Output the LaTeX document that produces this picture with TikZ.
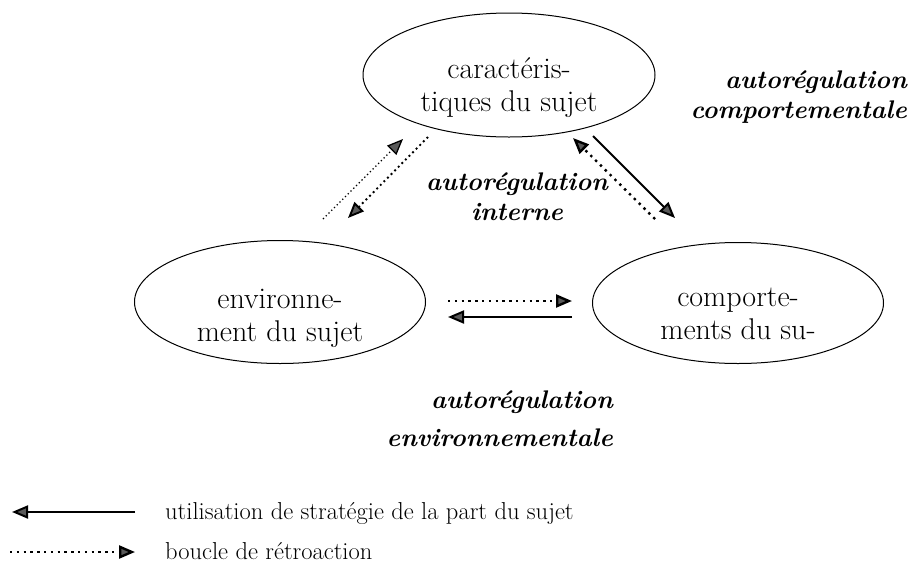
\documentclass[tikz,border=0pt]{standalone}
\usepackage{amsmath, amssymb}
\usetikzlibrary{arrows.meta, shapes.geometric}

\tikzset{
    bubble/.style={draw, ellipse, line width=1pt, inner sep=0pt},
    pole/.style={inner sep=0pt, align=center, font=\fontsize{30}{33}\selectfont},
    regul/.style={inner sep=0pt, font=\fontsize{25.5}{30}\selectfont\bfseries\itshape},
    legend/.style={inner sep=0pt, anchor=base west, font=\fontsize{24.5}{30}\selectfont},
    tip/.style={-{Triangle[length=16pt, width=13pt, fill=black!65]}},
    strat/.style={tip, line width=2pt},
    retro/.style={tip, line width=2.4pt, dash pattern=on 2.4pt off 4.4pt}
}

\begin{document}
\begin{tikzpicture}[x=1pt, y=-1pt]
    \useasboundingbox (0,0) rectangle (911,571);

    % the three poles
    \node[bubble, minimum width=292pt, minimum height=124pt] (sujet) at (509,75) {};
    \node[bubble, minimum width=291pt, minimum height=123pt] (env) at (280,302) {};
    \node[bubble, minimum width=291pt, minimum height=121pt] (comp) at (738,303) {};
    \node[pole] (sujettxt) at (509,88) {caractéris-\\tiques du sujet};
    \node[pole] (envtxt) at (280,318) {environne-\\ment du sujet};
    \node[pole] (comptxt) at (738,314) {comporte-\\ments du su-};

    % labels
    \node[regul, align=right, anchor=east] (regcomp) at (907,97)
        {autorégulation\\comportementale};
    \node[regul, align=center] (regint) at (517,197)
        {autorégulation\\interne};
    \node[regul, align=right, anchor=east, font=\fontsize{25.5}{38}\selectfont\bfseries\itshape]
        (regenv) at (613,419) {autorégulation\\environnementale};

    % arrow ends
    \coordinate (ea) at (323,219);
    \coordinate (eb) at (403,139);
    \coordinate (ec) at (428,137);
    \coordinate (ed) at (348,218);
    \coordinate (ca) at (655,219);
    \coordinate (cb) at (573,138);
    \coordinate (cc) at (593,136);
    \coordinate (cd) at (675,218);
    \coordinate (ha) at (448,301);
    \coordinate (hb) at (572,301);
    \coordinate (hc) at (572,317);
    \coordinate (hd) at (448,317);

    \draw[retro, line width=1.3pt, dash pattern=on 1.3pt off 2.6pt] (ea) -- (eb);
    \draw[retro, line width=1.9pt, dash pattern=on 1.9pt off 3.2pt] (ec) -- (ed);
    \draw[retro] (ca) -- (cb);
    \draw[strat] (cc) -- (cd);
    \draw[retro] (ha) -- (hb);
    \draw[strat] (hc) -- (hd);

    % legend
    \coordinate (la) at (135,512);
    \coordinate (lb) at (12,512);
    \coordinate (lc) at (10,552);
    \coordinate (ld) at (135,552);
    \draw[strat] (la) -- (lb);
    \draw[retro] (lc) -- (ld);
    \node[legend] (lstrat) at (165,519) {utilisation de stratégie de la part du sujet};
    \node[legend] (lretro) at (165,559) {boucle de rétroaction};
\end{tikzpicture}
\end{document}
